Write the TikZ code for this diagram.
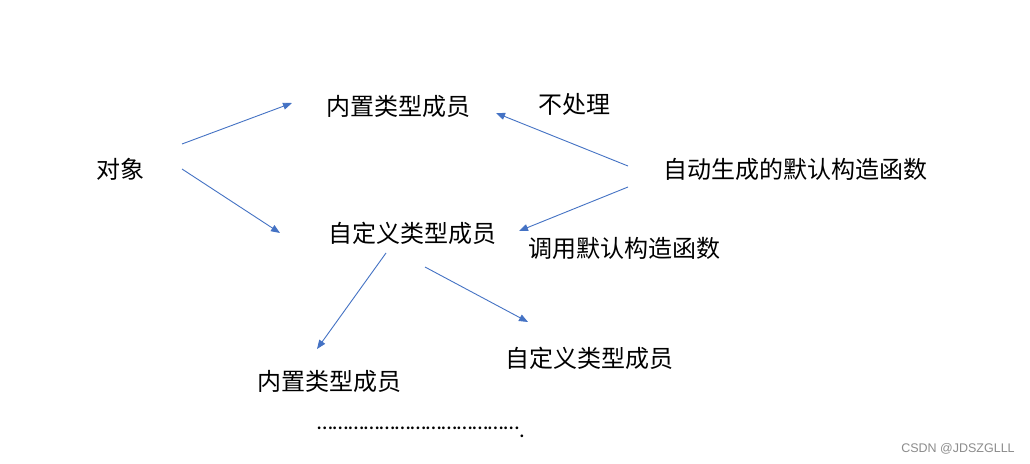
\documentclass[tikz,border=0pt]{standalone}
\usepackage{fontspec}
\usepackage{tikz}
\usetikzlibrary{arrows.meta,positioning}
\newfontfamily\cjk{Noto Sans CJK SC}
\newfontfamily\latinfont{Carlito}
\newfontfamily\markfont{Liberation Sans}
\definecolor{linkblue}{HTML}{4472C4}
\definecolor{markgray}{HTML}{8C8C8C}

\begin{document}
\begin{tikzpicture}[x=1pt,y=-1pt,>={Triangle[length=9pt,width=7pt]},
  txt/.style={inner sep=0pt,font=\cjk\fontsize{24}{28}\selectfont},
  link/.style={->,linkblue,line width=.9pt}]
 \useasboundingbox[fill=white] (0,0) rectangle (1030,463);
 \node[txt] (obj) at (120,169) {对象};
 \node[txt] (builtin) at (398,106) {内置类型成员};
 \node[txt] (skip) at (574,104) {不处理};
 \node[txt] (ctor) at (795,169) {自动生成的默认构造函数};
 \node[txt] (custom) at (412,233) {自定义类型成员};
 \node[txt] (call) at (624,248) {调用默认构造函数};
 \node[txt] (subbuiltin) at (329,381) {内置类型成员};
 \node[txt] (subcustom) at (589,358) {自定义类型成员};
 \node[inner sep=0pt,font=\latinfont\fontsize{22.5}{26}\selectfont,anchor=base west] (more) at (317,437)
  {\raisebox{.33em}{…………………………………}.};
 \node[inner sep=0pt,font=\markfont\fontsize{12.5}{14}\selectfont,text=markgray] (mark) at (958,449) {CSDN @JDSZGLLL};
 % arrow ends
 \coordinate (o1) at (182,144);
 \coordinate (o2) at (182,169);
 \coordinate (b1) at (292,103);
 \coordinate (c1) at (280,233);
 \coordinate (g1) at (628,166);
 \coordinate (g2) at (628,187);
 \coordinate (b2) at (496,113);
 \coordinate (c2) at (519,231);
 \coordinate (d1) at (386,253);
 \coordinate (d2) at (425,267);
 \coordinate (s1) at (317,349);
 \coordinate (s2) at (528,322);
 \draw[link] (o1) -- (b1);
 \draw[link] (o2) -- (c1);
 \draw[link] (g1) -- (b2);
 \draw[link] (g2) -- (c2);
 \draw[link] (d1) -- (s1);
 \draw[link] (d2) -- (s2);
\end{tikzpicture}
\end{document}
